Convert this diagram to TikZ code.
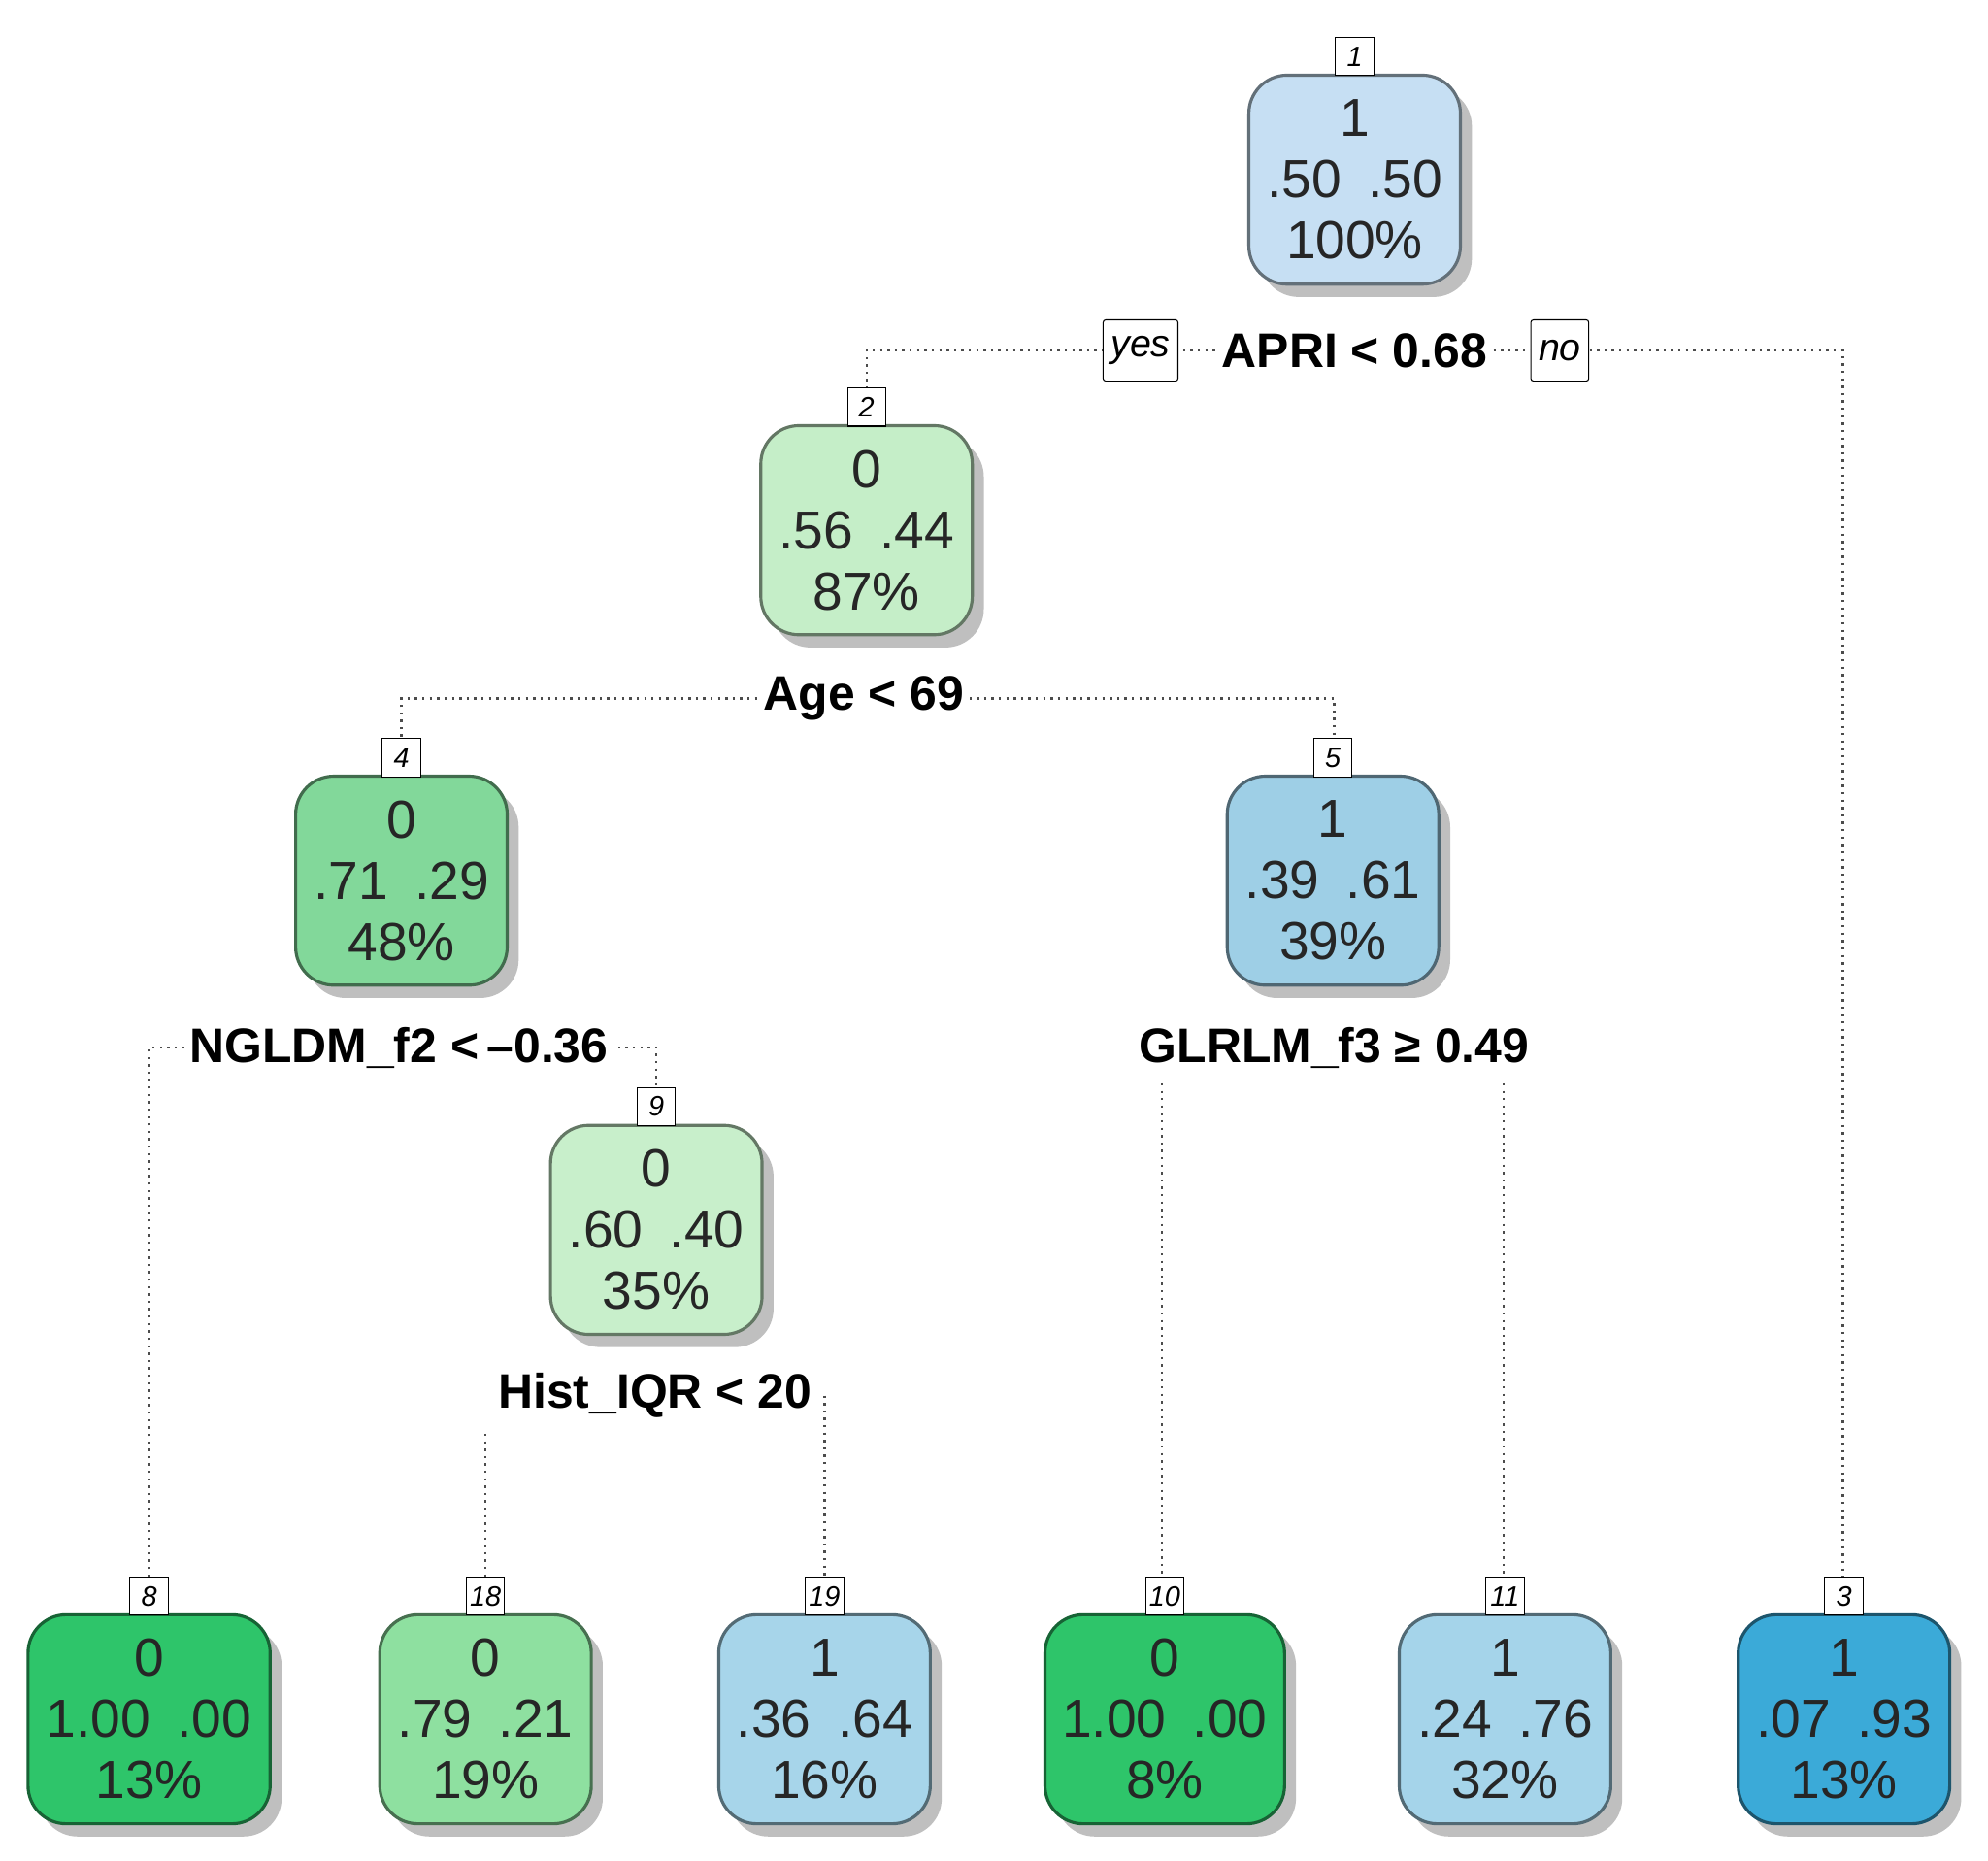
\documentclass[tikz,border=0pt]{standalone}
\usepackage{fontspec}
\setmainfont{Liberation Sans}
\begin{document}
\begin{tikzpicture}[x=0.5pt,y=-0.5pt,
 box/.style={draw=#1!50!black,line width=1.2pt,rounded corners=15pt,minimum width=83pt,minimum height=82pt,align=center,font=\fontsize{21}{24}\selectfont,inner sep=0pt,text=black!85},
 shad/.style={fill=black!25,rounded corners=15pt,minimum width=83pt,minimum height=82pt},
 lab/.style={draw,fill=white,font=\fontsize{11}{12}\selectfont\itshape,minimum width=15pt,minimum height=15pt,inner sep=1pt},
 split/.style={font=\fontsize{19}{22}\selectfont\bfseries,fill=white,inner sep=2pt},
 yn/.style={draw,rounded corners=1pt,fill=white,font=\fontsize{15}{18}\selectfont\itshape,inner sep=3pt,minimum height=24pt},
 con/.style={dotted,line width=0.9pt,black!70}]
\useasboundingbox (0,0) rectangle (1560,1460);
\definecolor{c1}{HTML}{C6DFF3}\definecolor{c2}{HTML}{C5EEC8}\definecolor{c4}{HTML}{82D89A}
\definecolor{c5}{HTML}{9ECFE6}\definecolor{c9}{HTML}{C8EFCB}\definecolor{c8}{HTML}{2EC56A}
\definecolor{c18}{HTML}{8EE0A0}\definecolor{c19}{HTML}{A7D5EA}\definecolor{c11}{HTML}{A5D4EA}
\definecolor{c3}{HTML}{3BAAD8}
% connectors first (nodes drawn on top)
\coordinate (a1) at (680,275); \coordinate (a2) at (1446,275);
\draw[con] (680,305) -- (a1) -- (1446,275) -- (1446,1237);
\draw[con] (315,578) -- (315,548) -- (1047,548) -- (1047,578);
\draw[con] (117,1237) -- (117,822) -- (515,822) -- (515,852);
\draw[con] (912,850) -- (912,1237);
\draw[con] (1180,850) -- (1180,1237);
\draw[con] (381,1125) -- (381,1237);
\draw[con] (647,1095) -- (647,1237);
% shadows
\foreach \x/\y/\w in {1063/141/83,680/416/83,315/691/83,1046/691/83,515/965/83,117/1349/95,381/1349/83,647/1349/83,914/1349/94,1181/1349/83,1447/1349/83}
  \node[shad,minimum width=\w pt] at (\x+9,\y+10) {};
% nodes
\node[box=c1,fill=c1] (n1) at (1063,141) {1\\.50\enspace.50\\100\%};
\node[box=c2,fill=c2] (n2) at (680,416) {0\\.56\enspace.44\\87\%};
\node[box=c4,fill=c4] (n4) at (315,691) {0\\.71\enspace.29\\48\%};
\node[box=c5,fill=c5] (n5) at (1046,691) {1\\.39\enspace.61\\39\%};
\node[box=c9,fill=c9] (n9) at (515,965) {0\\.60\enspace.40\\35\%};
\node[box=c8,fill=c8,minimum width=95pt] (n8) at (117,1349) {0\\1.00\enspace.00\\13\%};
\node[box=c18,fill=c18] (n18) at (381,1349) {0\\.79\enspace.21\\19\%};
\node[box=c19,fill=c19] (n19) at (647,1349) {1\\.36\enspace.64\\16\%};
\node[box=c8,fill=c8,minimum width=94pt] (n10) at (914,1349) {0\\1.00\enspace.00\\8\%};
\node[box=c11,fill=c11] (n11) at (1181,1349) {1\\.24\enspace.76\\32\%};
\node[box=c3,fill=c3] (n3) at (1447,1349) {1\\.07\enspace.93\\13\%};
% labels
\foreach \n/\t in {n1/1,n2/2,n4/4,n5/5,n9/9,n8/8,n18/18,n19/19,n10/10,n11/11,n3/3}
  \node[lab,anchor=south] (l\n) at ([yshift=-1pt]\n.north) {\t};
% split texts
\node[split] (s1) at (1063,275) {APRI < 0.68};
\node[yn] (yes) at (895,275) {yes};
\node[yn] (no) at (1224,275) {no};
\node[split] (s2) at (678,548) {Age < 69};
\node[split] (s4) at (313,822) {NGLDM\_f2 <\,–0.36};
\node[split] (s5) at (1047,822) {GLRLM\_f3 ≥ 0.49};
\node[split] (s9) at (514,1095) {Hist\_IQR < 20};
\end{tikzpicture}
\end{document}
